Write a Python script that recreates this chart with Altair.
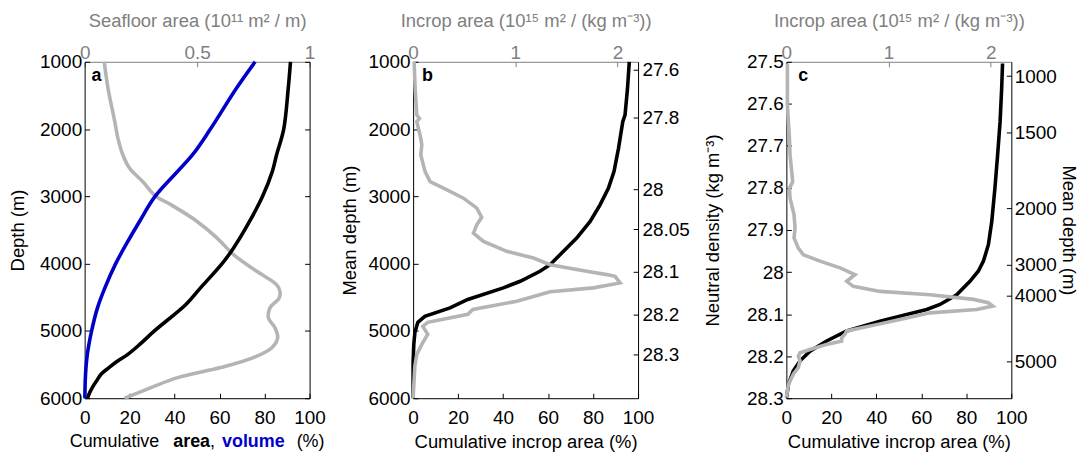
import altair as alt
import pandas as pd

# ---------------- data ----------------
# Panel a : depth (m) vs cumulative seafloor area / volume (%) and seafloor area (1e11 m^2/m)
a_area_depth = [1000, 1397, 2000, 2385, 2632, 3000, 3373, 3768, 4000, 4360, 4607, 5000,
                5200, 5348, 5450, 5545, 5644, 5743, 5842, 5920, 6000]
a_area_pct = [91.5, 90.5, 88.5, 85.3, 83.4, 79.1, 73.3, 66.2, 61.1, 51.5, 45.0, 31.0,
              24.5, 19.2, 14.5, 10.8, 7.3, 5.3, 3.4, 2.2, 1.3]
a_vol_depth = [1000, 1397, 2000, 2385, 3000, 3373, 3669, 4000, 4360, 4657, 5000, 5348, 5644, 6000]
a_vol_pct = [75.8, 67.4, 55.9, 47.9, 31.3, 24.4, 19.2, 13.8, 9.0, 5.7, 3.1, 1.2, 0.4, 0.1]
a_sea_depth = [1000, 1397, 1891, 2138, 2385, 2583, 2780, 3000, 3127, 3373, 3620, 3867, 4114,
               4311, 4410, 4509, 4657, 4805, 4953, 5101, 5249, 5397, 5545, 5694, 5842, 6000]
a_sea_area = [0.087, 0.104, 0.134, 0.148, 0.170, 0.200, 0.258, 0.317, 0.385, 0.500, 0.589,
              0.662, 0.765, 0.853, 0.868, 0.865, 0.824, 0.817, 0.846, 0.858, 0.832, 0.750,
              0.604, 0.413, 0.295, 0.178]

# Panel b : mean depth (m) vs cumulative incrop area (%) and incrop area (1e15 m^2/(kg m^-3))
b_cum_depth = [1000, 1397, 1793, 1891, 2286, 2632, 2879, 3126, 3373, 3620, 3867, 4015, 4114,
               4262, 4360, 4532, 4657, 4784, 4872, 5020, 5200, 5465, 6000]
b_cum_pct = [96.1, 95.3, 94.2, 93.2, 91.3, 89.3, 86.8, 83.1, 78.7, 72.7, 65.3, 60.9, 56.4,
             47.6, 40.1, 24.3, 16.4, 5.2, 2.1, 0.8, 0.3, 0.0, 0.0]
b_inc_depth = [1000, 1397, 1793, 1842, 1891, 2138, 2237, 2385, 2632, 2780, 2879, 3027, 3175,
               3311, 3422, 3546, 3669, 3817, 3916, 4015, 4114, 4163, 4188, 4286, 4360, 4419,
               4558, 4680, 4754, 4872, 4932, 5050, 5200, 5348, 5524, 6000]
b_inc_area = [0.010, 0.020, 0.036, 0.062, 0.036, 0.075, 0.085, 0.075, 0.117, 0.166, 0.297,
              0.492, 0.623, 0.671, 0.623, 0.590, 0.688, 0.916, 1.177, 1.340, 1.698, 1.894,
              1.975, 2.024, 1.763, 1.340, 1.014, 0.584, 0.535, 0.143, 0.095, 0.143, 0.085,
              0.036, 0.017, 0.0]
b_dens_labels = ["27.6", "27.8", "28", "28.05", "28.1", "28.2", "28.3"]
b_dens_depth = [1111, 1825, 2895, 3490, 4114, 4760, 5355]

# Panel c : neutral density vs cumulative incrop area (%) and incrop area
c_cum_dens = [27.504, 27.564, 27.643, 27.722, 27.801, 27.880, 27.935, 27.974, 27.998, 28.022,
              28.054, 28.077, 28.089, 28.101, 28.117, 28.140, 28.164, 28.188, 28.211, 28.235,
              28.267, 28.298]
c_cum_pct = [96.1, 95.7, 95.0, 93.9, 92.7, 91.3, 89.8, 87.6, 85.3, 81.6, 75.7, 68.3, 62.4,
             53.5, 41.6, 26.8, 17.9, 10.5, 6.1, 3.1, 0.9, 0.1]
c_inc_dens = [27.504, 27.603, 27.643, 27.682, 27.722, 27.785, 27.801, 27.824, 27.864, 27.895,
              27.919, 27.943, 27.959, 27.974, 27.990, 28.006, 28.022, 28.034, 28.046, 28.054,
              28.065, 28.073, 28.081, 28.089, 28.097, 28.109, 28.125, 28.140, 28.148, 28.156,
              28.164, 28.172, 28.184, 28.192, 28.200, 28.211, 28.227, 28.243, 28.267, 28.298]
c_inc_area = [0.010, 0.010, 0.020, 0.030, 0.036, 0.062, 0.030, 0.036, 0.075, 0.085, 0.075,
              0.117, 0.166, 0.329, 0.525, 0.671, 0.590, 0.655, 0.916, 1.405, 1.829, 1.975,
              2.018, 1.861, 1.405, 1.177, 0.883, 0.590, 0.574, 0.541, 0.541, 0.394, 0.231,
              0.134, 0.117, 0.134, 0.117, 0.068, 0.020, 0.0]
c_depth_labels = ["1000", "1500", "2000", "3000", "4000", "5000"]
c_depth_dens = [27.534, 27.668, 27.848, 27.982, 28.057, 28.213]

# tick values
depth_ticks = [1000, 2000, 3000, 4000, 5000, 6000]
pct_ticks = [0, 20, 40, 60, 80, 100]
dens_ticks = [27.5, 27.6, 27.7, 27.8, 27.9, 28.0, 28.1, 28.2, 28.3]
sea_ticks = [0, 0.5, 1]
inc_ticks = [0, 1, 2]

# ---------------- style ----------------
FONT = "Liberation Sans"
LFS = 19     # tick label size
TFS = 18.5   # title size
BLACK = "#000000"
BLUE = "#0000c8"
LGRAY = "#b4b4b4"
AGRAY = "#808080"
W, H = 226, 338
LW = 3.6
TICK = alt.ExprRef(expr="-5")

depth_scale = alt.Scale(domain=[1000, 6000], reverse=True, nice=False, zero=False)
dens_scale = alt.Scale(domain=[27.5, 28.3], reverse=True, nice=False, zero=False)
pct_scale = alt.Scale(domain=[0, 100], nice=False, zero=False)
sea_scale = alt.Scale(domain=[0, 1], nice=False, zero=False)
inc_scale = alt.Scale(domain=[0, 2.2], nice=False, zero=False)


def bl_axis(orient, values, title, **kw):
    return alt.Axis(orient=orient, values=values, title=title, grid=False, labelFlush=False,
                    labelOverlap=False, tickSize=TICK, domainColor=BLACK, tickColor=BLACK,
                    labelColor=BLACK, titleColor=BLACK, **kw)


def top_axis(values, title):
    return alt.Axis(orient="top", values=values, title=title, format="~g", grid=False,
                    labelFlush=False, labelOverlap=False, tickSize=TICK, domainColor=AGRAY,
                    tickColor=AGRAY, labelColor=AGRAY, labelPadding=4, titleColor=AGRAY,
                    titlePadding=13)


def label_expr(positions, labels):
    parts = [f"datum.value == {p} ? '{l}'" for p, l in zip(positions, labels)]
    return " : ".join(parts) + " : ''"


def frame(d):
    d = pd.DataFrame(d)
    d["i"] = range(len(d))
    return d


def letter(t, x):
    return alt.Chart(pd.DataFrame({"t": [t]})).mark_text(
        fontWeight="bold", fontSize=18, align="left", baseline="alphabetic", color=BLACK
    ).encode(text="t:N", x=alt.value(x), y=alt.value(19))


# ---------------- panel a ----------------
df_a_lines = pd.concat([
    frame({"depth": a_area_depth, "pct": a_area_pct, "series": "area"}),
    frame({"depth": a_vol_depth, "pct": a_vol_pct, "series": "volume"}),
])
df_a_sea = frame({"depth": a_sea_depth, "area": a_sea_area})

a_sea = alt.Chart(df_a_sea).mark_line(color=LGRAY, strokeWidth=LW, interpolate="catmull-rom").encode(
    x=alt.X("area:Q", scale=sea_scale, axis=top_axis(sea_ticks, "Seafloor area (10¹¹ m² / m)")),
    y=alt.Y("depth:Q", scale=depth_scale, axis=bl_axis("right", depth_ticks, None, labels=False)),
    order="i:Q",
)
a_lines = alt.Chart(df_a_lines).mark_line(strokeWidth=LW, interpolate="catmull-rom").encode(
    x=alt.X("pct:Q", scale=pct_scale, axis=bl_axis("bottom", pct_ticks, None, labelPadding=15)),
    y=alt.Y("depth:Q", scale=depth_scale,
            axis=bl_axis("left", depth_ticks, "Depth (m)", format="d", labelPadding=8,
                         titlePadding=12)),
    color=alt.Color("series:N", scale=alt.Scale(domain=["area", "volume"], range=[BLACK, BLUE]),
                    legend=None),
    order="i:Q",
)

title_pieces = ["Cumulative", "area", ",", "volume", "(%)"]
piece_weight = ["normal", "bold", "normal", "bold", "normal"]
piece_color = [BLACK, BLACK, BLACK, BLUE, BLACK]
piece_x = [-15, 89, 126, 138, 213]
a_title = [
    alt.Chart(pd.DataFrame({"t": [t]})).mark_text(
        fontWeight=w, fontSize=18, align="left", baseline="alphabetic", color=c
    ).encode(text="t:N", x=alt.value(px), y=alt.value(H + 49))
    for t, w, c, px in zip(title_pieces, piece_weight, piece_color, piece_x)
]

panel_a = alt.layer(a_sea, a_lines, letter("a", 7), *a_title).resolve_scale(
    x="independent", y="independent").properties(width=W, height=H)

# ---------------- panel b ----------------
df_b_cum = frame({"depth": b_cum_depth, "pct": b_cum_pct})
df_b_inc = frame({"depth": b_inc_depth, "area": b_inc_area})

b_cum = alt.Chart(df_b_cum).mark_line(color=BLACK, strokeWidth=LW).encode(
    x=alt.X("pct:Q", scale=pct_scale,
            axis=bl_axis("bottom", pct_ticks, "Cumulative incrop area (%)", labelPadding=15,
                         titlePadding=6)),
    y=alt.Y("depth:Q", scale=depth_scale,
            axis=bl_axis("left", depth_ticks, "Mean depth (m)", format="d", labelPadding=8,
                         titlePadding=9)),
    order="i:Q",
)
b_inc = alt.Chart(df_b_inc).mark_line(color=LGRAY, strokeWidth=LW).encode(
    x=alt.X("area:Q", scale=inc_scale, axis=top_axis(inc_ticks, "Incrop area (10¹⁵ m² / (kg m⁻³))")),
    y=alt.Y("depth:Q", scale=depth_scale,
            axis=bl_axis("right", b_dens_depth, None, labelPadding=9,
                         labelExpr=label_expr(b_dens_depth, b_dens_labels))),
    order="i:Q",
)
panel_b = alt.layer(b_cum, b_inc, letter("b", 9)).resolve_scale(
    x="independent", y="independent").properties(width=W, height=H)

# ---------------- panel c ----------------
df_c_cum = frame({"dens": c_cum_dens, "pct": c_cum_pct})
df_c_inc = frame({"dens": c_inc_dens, "area": c_inc_area})

c_cum = alt.Chart(df_c_cum).mark_line(color=BLACK, strokeWidth=LW).encode(
    x=alt.X("pct:Q", scale=pct_scale,
            axis=bl_axis("bottom", pct_ticks, "Cumulative incrop area (%)", labelPadding=15,
                         titlePadding=6)),
    y=alt.Y("dens:Q", scale=dens_scale,
            axis=bl_axis("left", dens_ticks, "Neutral density (kg m⁻³)", format="~g",
                         labelPadding=8, titlePadding=24)),
    order="i:Q",
)
c_inc = alt.Chart(df_c_inc).mark_line(color=LGRAY, strokeWidth=LW).encode(
    x=alt.X("area:Q", scale=inc_scale, axis=top_axis(inc_ticks, "Incrop area (10¹⁵ m² / (kg m⁻³))")),
    y=alt.Y("dens:Q", scale=dens_scale,
            axis=bl_axis("right", c_depth_dens, "Mean depth (m)", labelPadding=8, titlePadding=2,
                         labelExpr=label_expr(c_depth_dens, c_depth_labels))),
    order="i:Q",
)
panel_c = alt.layer(c_cum, c_inc, letter("c", 12)).resolve_scale(
    x="independent", y="independent").properties(width=W, height=H)

chart = alt.hconcat(panel_a, panel_b, panel_c, spacing=14).properties(
    padding={"left": 0, "top": 3, "right": 3, "bottom": 0}
).configure_view(stroke=None).configure_axis(
    labelFont=FONT, labelFontSize=LFS, titleFont=FONT, titleFontSize=TFS, titleFontWeight="normal",
    domainWidth=1, tickWidth=1,
).configure_text(font=FONT)

chart.save("out.html", embed_options={"renderer": "svg", "actions": False})
